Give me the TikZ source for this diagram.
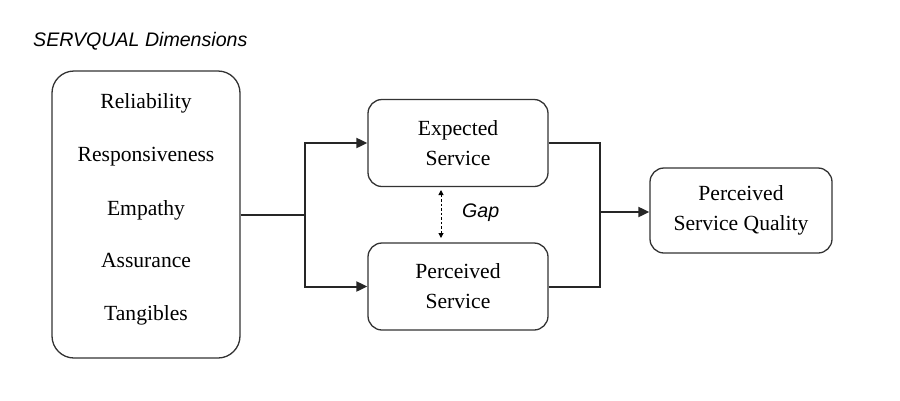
\documentclass[tikz,border=0pt]{standalone}
\usepackage{fontspec}
\setmainfont{Liberation Serif}
\newfontfamily\labelfont{Liberation Sans}
\usetikzlibrary{arrows.meta}
\begin{document}
\begin{tikzpicture}[x=1pt,y=-1pt,
  box/.style={draw=black!80, line width=1.3pt, rounded corners=14pt, align=center,
     font=\fontsize{21.6}{30}\selectfont, inner sep=0pt},
  conn/.style={line width=2pt, black!85},
  arr/.style={conn, -{Triangle[length=11pt,width=10pt]}},
  italabel/.style={font=\labelfont\itshape\fontsize{19.6}{22}\selectfont, inner sep=0pt}]
\useasboundingbox (0,0) rectangle (900,400);
\node[italabel, anchor=west] (title) at (33,41) {SERVQUAL Dimensions};
% left box
\node[box, rounded corners=22pt, minimum width=188pt, minimum height=287pt] (dims) at (146,214.5) {};
\foreach \t/\y/\n in {Reliability/101/d1, Responsiveness/154/d2, Empathy/208/d3, Assurance/260/d4, Tangibles/313/d5}
  \node[font=\fontsize{21.6}{24}\selectfont, anchor=base] (\n) at (146,\y+7) {\t};
\node[box, minimum width=180pt, minimum height=87pt] (exp) at (458,143) {Expected\\Service};
\node[box, minimum width=180pt, minimum height=87pt] (per) at (458,286.5) {Perceived\\Service};
\node[box, minimum width=182pt, minimum height=85pt] (psq) at (741,210.5) {Perceived\\Service Quality};
\coordinate (sj) at (305,215);
\coordinate (mj) at (600,212);
\draw[conn] (dims.east |- sj) -- (sj);
\draw[arr] (sj) |- (exp.west);
\draw[arr] (sj) |- (per.west);
\draw[conn] (exp.east) -| (mj);
\draw[conn] (per.east) -| (mj);
\draw[arr] (mj) -- (psq.west |- mj);
\draw[line width=1pt, dashed, dash pattern=on 2.5pt off 2pt, {Triangle[length=5pt,width=5pt]}-{Triangle[length=5pt,width=5pt]}]
  (441,190) -- (441,238);
\node[italabel, anchor=west] (gap) at (462,213) {Gap};
\end{tikzpicture}
\end{document}
